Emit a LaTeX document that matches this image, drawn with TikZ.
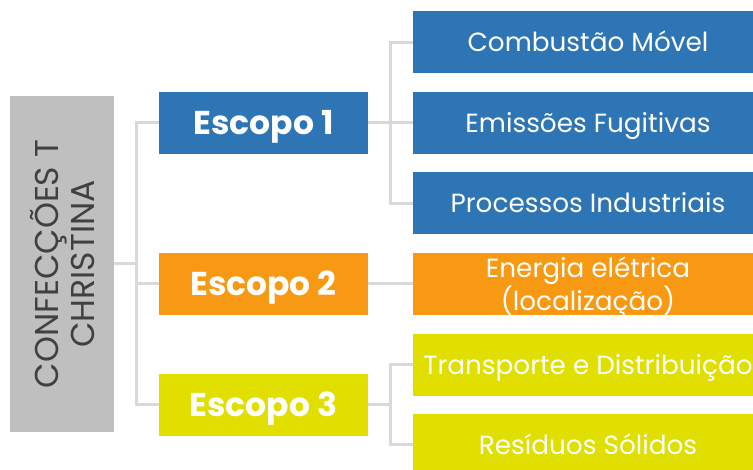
\documentclass[tikz,border=0pt]{standalone}
\usepackage{fontspec}
\setmainfont{Poppins}
\definecolor{cblue}{RGB}{46,117,182}
\definecolor{corange}{RGB}{247,153,18}
\definecolor{cyellow}{RGB}{224,223,0}
\definecolor{cgray}{RGB}{191,191,191}
\definecolor{cline}{RGB}{217,217,217}
\definecolor{ctext}{RGB}{64,64,64}
\begin{document}
\begin{tikzpicture}[x=1pt,y=-1pt,
  box/.style={rectangle,inner sep=0pt,text=white,align=center},
  scope/.style={box,text height=25pt,text depth=2pt,minimum width=209pt,minimum height=62pt,font=\fontsize{33}{36}\selectfont\bfseries},
  leaf/.style={box,minimum width=350pt,minimum height=62pt,font=\fontsize{26.3}{28}\selectfont},
  oneline/.style={text height=21pt,text depth=2.6pt},
  conn/.style={draw=cline,line width=3pt}]
\useasboundingbox (0,0) rectangle (753,470);
\clip (0,0) rectangle (753,470);
\node[rectangle,fill=cgray,minimum width=104pt,minimum height=336pt,inner sep=0pt] (root) at (62,264) {};
\node[rotate=90,text=ctext,align=center,font=\fontsize{33}{36}\selectfont] (rootlbl) at (62,264) {CONFECÇÕES T\\CHRISTINA};
\node[scope,fill=cblue] (e1) at (263.5,123) {Escopo 1};
\node[scope,fill=corange] (e2) at (263.5,284) {Escopo 2};
\node[scope,fill=cyellow] (e3) at (263.5,405) {Escopo 3};
\node[leaf,oneline,fill=cblue] (c1) at (588,42.5) {Combustão Móvel};
\node[leaf,oneline,fill=cblue] (c2) at (588,123) {Emissões Fugitivas};
\node[leaf,oneline,fill=cblue] (c3) at (588,203.5) {Processos Industriais};
\node[leaf,fill=corange,text depth=0pt,font=\fontsize{26.3}{27}\selectfont] (c4) at (588,284) {Energia elétrica\\(localização)};
\node[leaf,oneline,fill=cyellow] (c5) at (588,365) {Transporte e Distribuição};
\node[leaf,oneline,fill=cyellow] (c6) at (588,445) {Resíduos Sólidos};
\coordinate (j0) at (136,264);
\coordinate (j1) at (390,123);
\coordinate (j3) at (390,405);
\draw[conn] (root.east) -- (j0);
\draw[conn] (j0) |- (e1.west);
\draw[conn] (j0) |- (e2.west);
\draw[conn] (j0) |- (e3.west);
\draw[conn] (e1.east) -- (j1);
\draw[conn] (j1) |- (c1.west);
\draw[conn] (j1) |- (c2.west);
\draw[conn] (j1) |- (c3.west);
\draw[conn] (e2.east) -- (c4.west);
\draw[conn] (e3.east) -- (j3);
\draw[conn] (j3) |- (c5.west);
\draw[conn] (j3) |- (c6.west);
\end{tikzpicture}
\end{document}
